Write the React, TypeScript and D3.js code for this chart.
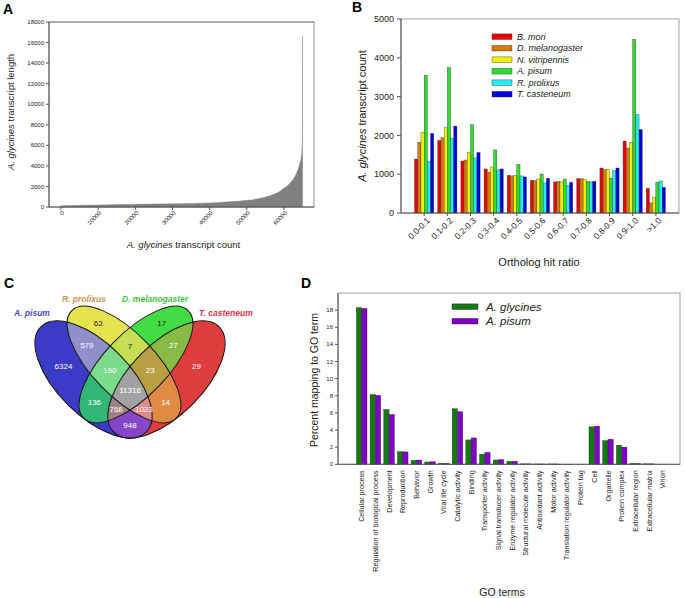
import React, { useMemo } from 'react';
import * as d3 from 'd3';

const FONT = "'Liberation Sans', Arial, Helvetica, sans-serif";

// ---------- Panel A data ----------
const aCounts = [0, 10000, 20000, 30000, 40000, 45000, 50000, 53000, 55000, 57000, 59000, 60000, 61000, 62000, 63000, 63800, 64300, 64600, 64800, 64900, 64950, 64980, 65000];
const aLengths = [130, 190, 260, 320, 390, 500, 650, 800, 970, 1200, 1550, 1840, 2100, 2500, 3000, 3700, 4300, 4800, 5500, 6500, 8000, 11000, 16600];
const aYTicks = [0, 2000, 4000, 6000, 8000, 10000, 12000, 14000, 16000, 18000];
const aXTicks = [0, 10000, 20000, 30000, 40000, 50000, 60000];

// ---------- Panel B data ----------
const bCategories = ['0.0-0.1', '0.1-0.2', '0.2-0.3', '0.3-0.4', '0.4-0.5', '0.5-0.6', '0.6-0.7', '0.7-0.8', '0.8-0.9', '0.9-1.0', '>1.0'];
const bSeries = ['B. mori', 'D. melanogaster', 'N. vitripennis', 'A. pisum', 'R. prolixus', 'T. casteneum'];
const bMori = [1390, 1870, 1340, 1135, 970, 840, 800, 885, 1160, 1855, 635];
const bMelanogaster = [1820, 1940, 1365, 1055, 955, 830, 815, 885, 1115, 1675, 260];
const bVitripennis = [2080, 2200, 1560, 1185, 970, 875, 800, 870, 1125, 1820, 395];
const bPisum = [3550, 3750, 2275, 1625, 1255, 1005, 875, 815, 900, 4470, 790];
const bProlixus = [1330, 1930, 1420, 1110, 955, 775, 720, 800, 1090, 2535, 825];
const bCasteneum = [2050, 2240, 1560, 1135, 930, 895, 790, 815, 1160, 2150, 660];
const bValues = [bMori, bMelanogaster, bVitripennis, bPisum, bProlixus, bCasteneum];
const bColors = ['#e80000', '#d27c06', '#f2f200', '#2edc2e', '#22eeee', '#0000dd'];
const bYTicks = [0, 1000, 2000, 3000, 4000, 5000];

// ---------- Panel C data ----------
const vennSets = ['A. pisum', 'R. prolixus', 'D. melanogaster', 'T. casteneum'];
// membership bits: 1 = A. pisum, 2 = R. prolixus, 4 = D. melanogaster, 8 = T. casteneum
const vennRegions = [1, 2, 4, 8, 3, 6, 12, 5, 10, 9, 7, 14, 13, 11, 15];
const vennValues = [6324, 62, 17, 29, 579, 7, 27, 136, 14, 948, 160, 23, 768, 1023, 11318];
const vennRegionColors: Record<number, string> = {
  1: '#3b3bc6', 2: '#e4e44e', 4: '#44dc44', 8: '#e03e3e',
  3: '#8f8fca', 6: '#c6de52', 12: '#88ba46', 5: '#32b676', 10: '#e08a42', 9: '#8646c8',
  7: '#7adc8a', 14: '#b8a042', 13: '#a28282', 11: '#e28a8a', 15: '#a2a2a2',
};
const vennLabelColors = ['#4a4ac8', '#cf9548', '#3ec43e', '#e0334a'];

// ---------- Panel D data ----------
const dCategories = ['Cellular process', 'Regulation of biological process', 'Development', 'Reproduction', 'Behavior', 'Growth', 'Viral life cycle', 'Catalytic activity', 'Binding', 'Transporter activity', 'Signal transducer activity', 'Enzyme regulator activity', 'Structural molecule activity', 'Antioxidant activity', 'Motor activity', 'Translation regulator activity', 'Protein tag', 'Cell', 'Organelle', 'Protein complex', 'Extracellular region', 'Extracellular matrix', 'Virion'];
const dSeries = ['A. glycines', 'A. pisum'];
const dGlycines = [18.3, 8.15, 6.4, 1.48, 0.47, 0.27, 0.12, 6.48, 2.85, 1.17, 0.5, 0.35, 0.05, 0.04, 0.04, 0.01, 0, 4.37, 2.77, 2.23, 0.12, 0.05, 0];
const dPisum = [18.2, 8.05, 5.82, 1.45, 0.5, 0.3, 0.12, 6.13, 3.08, 1.4, 0.55, 0.35, 0.05, 0.04, 0.04, 0.01, 0, 4.45, 2.93, 2.0, 0.1, 0.05, 0];
const dValues = [dGlycines, dPisum];
const dColors = ['#137a13', '#8000c8'];
const dYTicks = [0, 2, 4, 6, 8, 10, 12, 14, 16, 18];

// ---------- layout ----------
const A = { l: 49, t: 22, r: 314, b: 207 };
const B = { l: 401, t: 19, r: 679, b: 213 };
const D = { l: 338, t: 293, r: 680, b: 464.3 };
const ellipses = [
  { cx: 93.5, cy: 379.5, rx: 74.5, ry: 36, rot: 45 },
  { cx: 124, cy: 364.5, rx: 75, ry: 31.5, rot: 46 },
  { cx: 136, cy: 364.5, rx: 75, ry: 31.5, rot: -46 },
  { cx: 166.5, cy: 379.5, rx: 74.5, ry: 36, rot: -45 },
];

function inside(e: any, x: number, y: number) {
  const p = (e.rot * Math.PI) / 180;
  const dx = x - e.cx, dy = y - e.cy;
  const u = dx * Math.cos(p) + dy * Math.sin(p);
  const v = -dx * Math.sin(p) + dy * Math.cos(p);
  return (u / e.rx) ** 2 + (v / e.ry) ** 2 <= 1;
}

function PanelA() {
  const x = d3.scaleLinear().domain([0, 60000]).range([61, 284]);
  const y = d3.scaleLinear().domain([0, 18000]).range([A.b, A.t]);
  const pts = aCounts.map((c, i) => [c, aLengths[i]] as [number, number]);
  const area = d3.area<[number, number]>().x(d => x(d[0])).y0(y(0)).y1(d => y(d[1])).curve(d3.curveMonotoneX);
  return (
    <g>
      <text x={3} y={13.5} fontSize={14} fontWeight="bold">A</text>
      <rect x={A.l} y={A.t} width={A.r - A.l} height={A.b - A.t} fill="none" stroke="#909090" strokeWidth={1} />
      <line x1={A.l} x2={A.r} y1={A.t} y2={A.t} stroke="#a0a0a0" strokeWidth={1.6} />
      <path d={area(pts) || ''} fill="#808080" stroke="#808080" strokeWidth={0.4} />
      <line x1={A.l} x2={A.l} y1={A.t} y2={A.b} stroke="#555" />
      <line x1={A.l} x2={A.r} y1={A.b} y2={A.b} stroke="#555" />
      {aYTicks.map(t => (
        <g key={t}>
          <line x1={A.l - 3} x2={A.l} y1={y(t)} y2={y(t)} stroke="#555" />
          <text x={A.l - 5} y={y(t)} dy="0.35em" fontSize={6} textAnchor="end" fill="#222">{t}</text>
        </g>
      ))}
      {aXTicks.map(t => (
        <g key={t}>
          <line x1={x(t)} x2={x(t)} y1={A.b} y2={A.b + 3} stroke="#555" />
          <text transform={`translate(${x(t) + 2},${A.b + 5}) rotate(-45)`} dy="0.35em" fontSize={6} textAnchor="end" fill="#222">{t}</text>
        </g>
      ))}
      <text x={183.5} y={248} fontSize={9.5} textAnchor="middle" fill="#222"><tspan fontStyle="italic">A. glycines</tspan> transcript count</text>
      <text transform="translate(13.5,112) rotate(-90)" fontSize={9.5} textAnchor="middle" fill="#222"><tspan fontStyle="italic">A. glycines</tspan> transcript length</text>
    </g>
  );
}

function PanelB() {
  const x = d3.scalePoint<string>().domain(bCategories).range([B.l, B.r]).padding(1);
  const inner = d3.scaleBand<string>().domain(bSeries).range([-9.6, 9.6]);
  const y = d3.scaleLinear().domain([0, 5000]).range([B.b, B.t]);
  return (
    <g>
      <text x={352} y={12} fontSize={14} fontWeight="bold">B</text>
      <rect x={B.l} y={B.t} width={B.r - B.l} height={B.b - B.t} fill="none" stroke="#a0a0a0" strokeWidth={1} />
      {bCategories.map((c, i) => (
        <g key={c}>
          {bSeries.map((s, j) => (
            <rect key={s} x={(x(c) as number) + (inner(s) as number)} y={y(bValues[j][i])} width={inner.bandwidth()} height={y(0) - y(bValues[j][i])} fill={bColors[j]} stroke="#333" strokeWidth={0.35} />
          ))}
          <line x1={x(c)} x2={x(c)} y1={B.b} y2={B.b + 3} stroke="#555" />
          <text transform={`translate(${(x(c) as number) + 4},${B.b + 6}) rotate(-45)`} dy="0.35em" fontSize={8.5} textAnchor="end" fill="#222">{c}</text>
        </g>
      ))}
      <line x1={B.l} x2={B.l} y1={B.t} y2={B.b} stroke="#555" />
      <line x1={B.l} x2={B.r} y1={B.b} y2={B.b} stroke="#555" />
      {bYTicks.map(t => (
        <g key={t}>
          <line x1={B.l - 4} x2={B.l} y1={y(t)} y2={y(t)} stroke="#555" />
          <text x={B.l - 7} y={y(t)} dy="0.35em" fontSize={9} textAnchor="end" fill="#222">{t}</text>
        </g>
      ))}
      {bSeries.map((s, j) => (
        <g key={s}>
          <rect x={492} y={36.7 + j * 11.5 - 2.8} width={20} height={5.6} fill={bColors[j]} stroke="#333" strokeWidth={0.4} />
          <text x={517} y={36.7 + j * 11.5} dy="0.35em" fontSize={9} fontStyle="italic" fill="#222">{s}</text>
        </g>
      ))}
      <text x={539} y={266} fontSize={11} textAnchor="middle" fill="#222">Ortholog hit ratio</text>
      <text transform="translate(366,116) rotate(-90)" fontSize={11} textAnchor="middle" fill="#222"><tspan fontStyle="italic">A. glycines</tspan> transcript count</text>
    </g>
  );
}

function PanelC() {
  const centroids = useMemo(() => {
    const acc: Record<number, [number, number, number]> = {};
    vennRegions.forEach(r => (acc[r] = [0, 0, 0]));
    for (let x = 20; x < 245; x += 0.5) {
      for (let y = 295; y < 445; y += 0.5) {
        let m = 0;
        ellipses.forEach((e, i) => { if (inside(e, x, y)) m |= 1 << i; });
        if (acc[m]) { acc[m][0] += x; acc[m][1] += y; acc[m][2] += 1; }
      }
    }
    const out: Record<number, [number, number]> = {};
    vennRegions.forEach(r => (out[r] = [acc[r][0] / acc[r][2], acc[r][1] / acc[r][2]]));
    return out;
  }, []);
  const dark = new Set([2, 4, 6]);
  return (
    <g>
      <text x={4} y={288} fontSize={14} fontWeight="bold">C</text>
      <defs>
        {ellipses.map((e, i) => (
          <clipPath id={`vclip${i}`} key={i}>
            <ellipse cx={e.cx} cy={e.cy} rx={e.rx} ry={e.ry} transform={`rotate(${e.rot},${e.cx},${e.cy})`} />
          </clipPath>
        ))}
        {vennRegions.map(r => (
          <mask id={`vmask${r}`} key={r} maskUnits="userSpaceOnUse" x={0} y={290} width={270} height={160}>
            <rect x={0} y={290} width={270} height={160} fill="#fff" />
            {ellipses.map((e, i) => ((r >> i) & 1 ? null : (
              <ellipse key={i} cx={e.cx} cy={e.cy} rx={e.rx} ry={e.ry} transform={`rotate(${e.rot},${e.cx},${e.cy})`} fill="#000" />
            )))}
          </mask>
        ))}
      </defs>
      {vennRegions.map(r => {
        let node: any = <rect x={0} y={290} width={270} height={160} fill={vennRegionColors[r]} mask={`url(#vmask${r})`} />;
        ellipses.forEach((_, i) => {
          if ((r >> i) & 1) node = <g clipPath={`url(#vclip${i})`}>{node}</g>;
        });
        return <g key={r}>{node}</g>;
      })}
      {ellipses.map((e, i) => (
        <ellipse key={i} cx={e.cx} cy={e.cy} rx={e.rx} ry={e.ry} transform={`rotate(${e.rot},${e.cx},${e.cy})`} fill="none" stroke="#111" strokeWidth={1} />
      ))}
      {vennRegions.map((r, k) => (
        <text key={r} x={centroids[r][0]} y={centroids[r][1]} dy="0.35em" fontSize={8} textAnchor="middle" fill={dark.has(r) ? '#222' : '#fff'}>{vennValues[k]}</text>
      ))}
      <text x={14} y={316} fontSize={8.5} fontWeight="bold" fontStyle="italic" fill={vennLabelColors[0]}>{vennSets[0]}</text>
      <text x={62} y={302} fontSize={8.5} fontWeight="bold" fontStyle="italic" fill={vennLabelColors[1]}>{vennSets[1]}</text>
      <text x={122} y={302} fontSize={8.5} fontWeight="bold" fontStyle="italic" fill={vennLabelColors[2]}>{vennSets[2]}</text>
      <text x={199} y={316} fontSize={8.5} fontWeight="bold" fontStyle="italic" fill={vennLabelColors[3]}>{vennSets[3]}</text>
    </g>
  );
}

function PanelD() {
  const x = d3.scalePoint<string>().domain(dCategories).range([361.7, 662.7]);
  const inner = d3.scaleBand<string>().domain(dSeries).range([-5.3, 5.3]);
  const y = d3.scaleLinear().domain([0, 20]).range([D.b, D.t]);
  return (
    <g>
      <text x={301} y={288} fontSize={14} fontWeight="bold">D</text>
      <rect x={D.l} y={D.t} width={D.r - D.l} height={D.b - D.t} fill="none" stroke="#a0a0a0" strokeWidth={1} />
      {dCategories.map((c, i) => (
        <g key={c}>
          {dSeries.map((s, j) => (
            <rect key={s} x={(x(c) as number) + (inner(s) as number)} y={y(dValues[j][i])} width={inner.bandwidth()} height={y(0) - y(dValues[j][i])} fill={dColors[j]} stroke="#222" strokeWidth={0.35} />
          ))}
          <text transform={`translate(${x(c)},${D.b + 6}) rotate(-90)`} dy="0.35em" fontSize={7.2} textAnchor="end" fill="#222">{c}</text>
        </g>
      ))}
      <line x1={D.l} x2={D.l} y1={D.t} y2={D.b} stroke="#555" />
      <line x1={D.l} x2={D.r} y1={D.b} y2={D.b} stroke="#555" />
      {dYTicks.map(t => (
        <g key={t}>
          <line x1={D.l - 3} x2={D.l} y1={y(t)} y2={y(t)} stroke="#555" />
          <text x={D.l - 5} y={y(t)} dy="0.35em" fontSize={6} textAnchor="end" fill="#222">{t}</text>
        </g>
      ))}
      {dSeries.map((s, j) => (
        <g key={s}>
          <rect x={452} y={306.7 + j * 14.5 - 2.8} width={26} height={5.6} fill={dColors[j]} stroke="#222" strokeWidth={0.4} />
          <text x={486} y={306.7 + j * 14.5} dy="0.35em" fontSize={11.5} fontStyle="italic" fill="#222">{s}</text>
        </g>
      ))}
      <text x={502} y={596} fontSize={10.5} textAnchor="middle" fill="#222">GO terms</text>
      <text transform="translate(318,380) rotate(-90)" fontSize={10.5} textAnchor="middle" fill="#222">Percent mapping to GO term</text>
    </g>
  );
}

export default function App() {
  return (
    <svg width={685} height={598} style={{ position: 'absolute', left: 0, top: 0, background: '#fff' }} fontFamily={FONT}>
      <rect width={685} height={598} fill="#fff" />
      <PanelA />
      <PanelB />
      <PanelC />
      <PanelD />
    </svg>
  );
}
